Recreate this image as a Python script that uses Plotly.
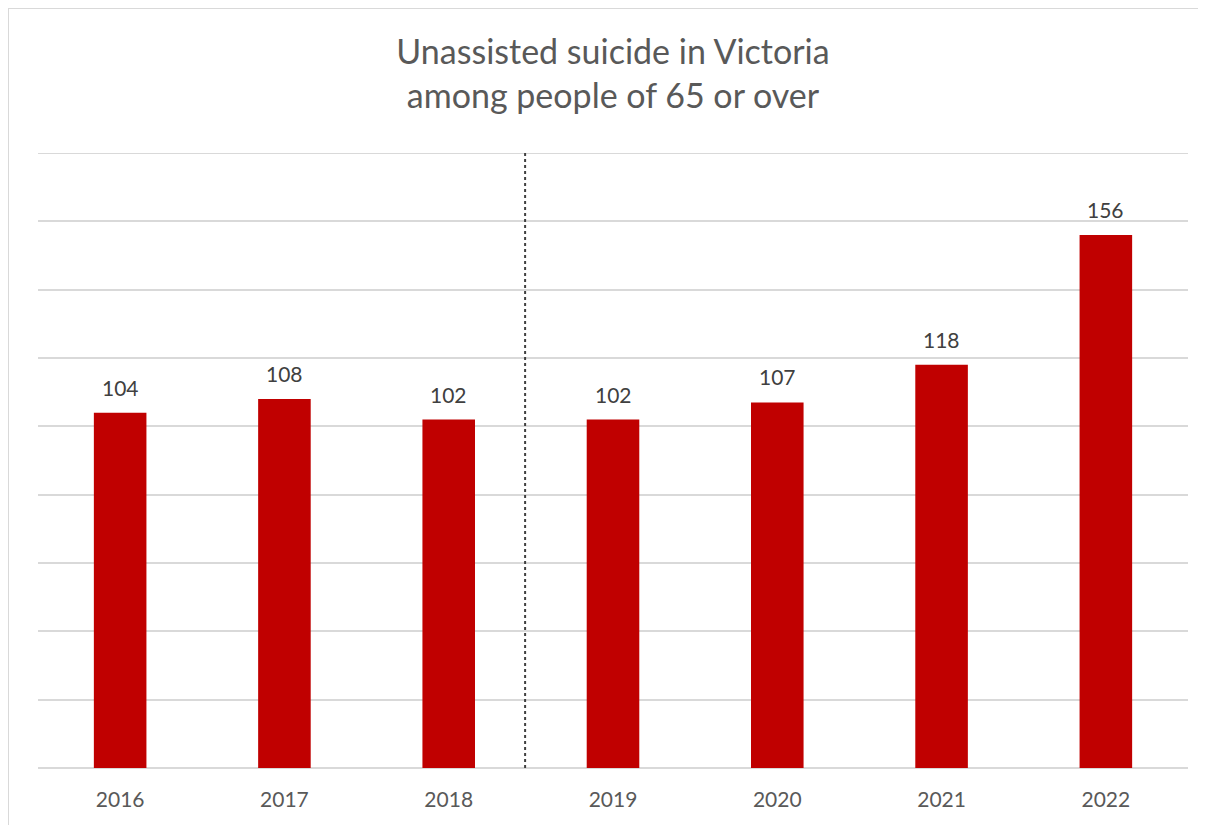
import plotly.graph_objects as go

years = ["2016", "2017", "2018", "2019", "2020", "2021", "2022"]
counts = [104, 108, 102, 102, 107, 118, 156]
title_text = "Unassisted suicide in Victoria<br>among people of 65 or over"

W, H = 1206, 825
# page has an 8px body margin, so figure coords = page coords - 8
L, R, T, B = 30, 26, 145, 65
FONT = "Lato, Open Sans, sans-serif"

fig = go.Figure()
fig.add_trace(go.Bar(
    x=years, y=counts,
    marker=dict(color="#C00000", line=dict(width=0)),
    width=0.32,
    hoverinfo="x+y",
))

# value labels (category axis positions are indices)
for i, v in enumerate(counts):
    fig.add_annotation(x=i, y=v, xref="x", yref="y", text=str(v), showarrow=False,
                       yanchor="bottom", yshift=11,
                       font=dict(family=FONT, size=21, color="#404040"))

# top gridline at 180
fig.add_shape(type="line", xref="paper", yref="y", x0=0, x1=1, y0=180, y1=180,
              line=dict(color="#D9D9D9", width=2), layer="below")

# divider between 2018 and 2019
fig.add_shape(type="line", xref="x", yref="y", x0=2.465, x1=2.465, y0=0, y1=183,
              line=dict(color="#404040", width=2, dash="dot"))

# outer border
pw = W - L - R
ph = H - T - B
fig.add_shape(type="rect", xref="paper", yref="paper",
              x0=(0 - L) / pw, x1=(1230 - L) / pw,
              y0=(H - B - 860) / ph, y1=(H - B - 0) / ph,
              line=dict(color="#D9D9D9", width=2), fillcolor="rgba(0,0,0,0)", layer="below")

fig.update_layout(
    width=W, height=H,
    margin=dict(l=L, r=R, t=T, b=B),
    paper_bgcolor="white", plot_bgcolor="white",
    showlegend=False,
    title=dict(text=title_text, x=(613 - 8) / W, xanchor="center", y=1 - 56 / H, yanchor="top",
               font=dict(family=FONT, size=34, color="#595959")),
    xaxis=dict(type="category", range=[-0.5, len(years) - 0.5],
               showgrid=False, showline=False, ticks="", zeroline=False,
               tickfont=dict(family=FONT, size=21, color="#595959"),
               ticklabelstandoff=17),
    yaxis=dict(range=[0, 180], dtick=20, showticklabels=False, showgrid=True,
               gridcolor="#D9D9D9", gridwidth=2, zeroline=True, zerolinecolor="#D9D9D9",
               zerolinewidth=2, showline=False, ticks=""),
)

fig.write_html("out.html")
